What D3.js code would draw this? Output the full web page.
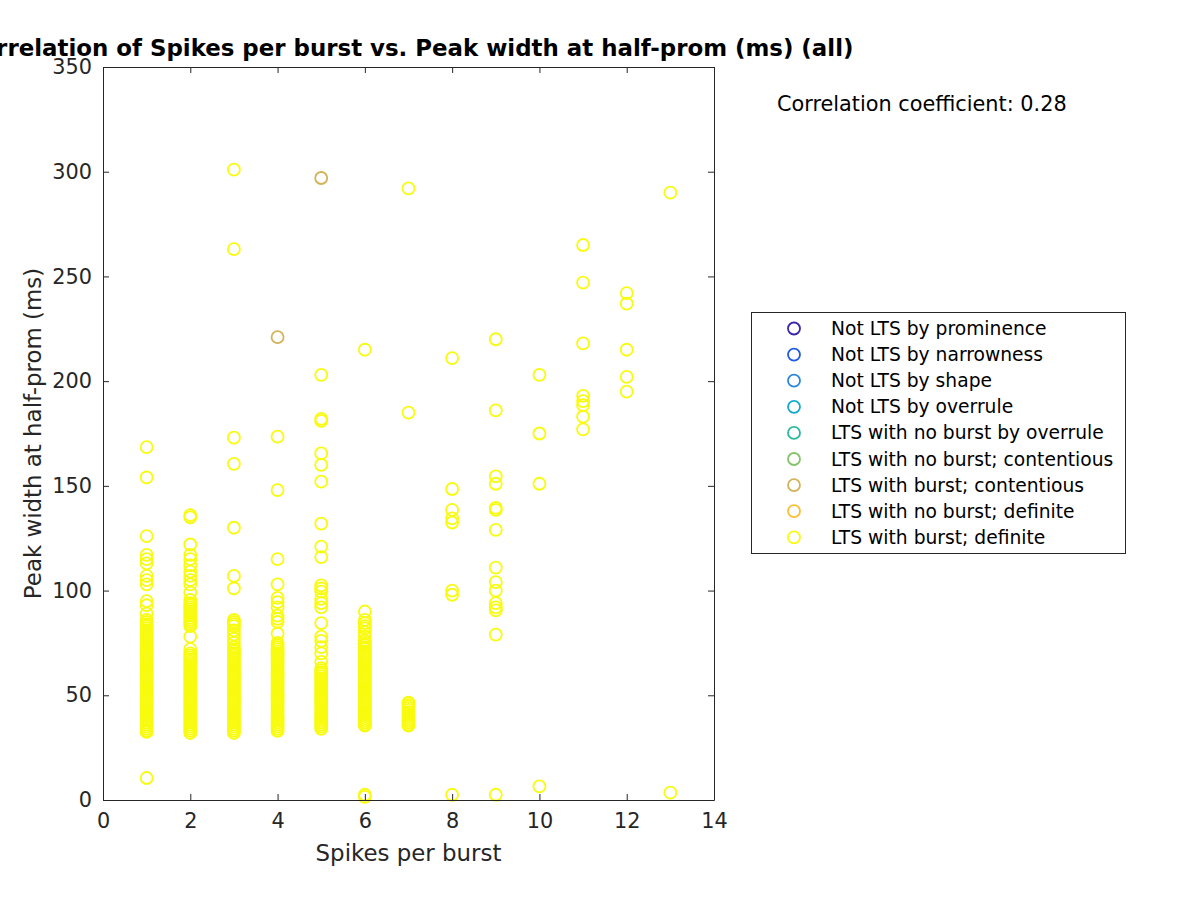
<!DOCTYPE html>
<html>
<head>
<meta charset="utf-8">
<script src="https://cdn.jsdelivr.net/npm/d3@7"></script>
<style>
  html, body { margin: 0; padding: 0; background: #ffffff; }
  svg { display: block; font-family: "DejaVu Sans", sans-serif; }
</style>
</head>
<body>
<svg id="chart" width="1200" height="900"></svg>
<script>
// ---------------- DATA ----------------
const titleText = "Correlation of Spikes per burst vs. Peak width at half-prom (ms) (all)";
const xLabel = "Spikes per burst";
const yLabel = "Peak width at half-prom (ms)";
const corrText = "Correlation coefficient: 0.28";

const categories = [
  "Not LTS by prominence",
  "Not LTS by narrowness",
  "Not LTS by shape",
  "Not LTS by overrule",
  "LTS with no burst by overrule",
  "LTS with no burst; contentious",
  "LTS with burst; contentious",
  "LTS with no burst; definite",
  "LTS with burst; definite"
];
const categoryColors = ["#3e26a8", "#1f5ae6", "#2a87e0", "#10aacb", "#2cb99c", "#87c36c", "#d4b25a", "#fcbf35", "#f9fb0e"];

const xTicks = [0, 2, 4, 6, 8, 10, 12, 14];
const yTicks = [0, 50, 100, 150, 200, 250, 300, 350];

// "LTS with burst; contentious"
const contentiousSpikes = [4, 5];
const contentiousWidths = [221, 297];

// "LTS with burst; definite": spikes per burst and peak widths (ms) per spike count
const definiteSpikes = [1, 2, 3, 4, 5, 6, 7, 8, 9, 10, 11, 12, 13];
const widths1 = [168.5, 154, 126, 117, 115, 113, 107, 105, 103, 95, 93, 89, 86, 85, 84, 83, 82, 81, 80, 79, 78, 77, 76, 75, 74, 73, 72, 71, 70, 69, 68, 67, 66, 65, 64, 63, 62, 61, 60, 59, 58, 57, 56, 55, 54, 53, 52, 51, 50, 49, 48, 47, 46, 45, 44, 43, 42, 41, 40, 39, 38, 37, 36, 35, 34, 33, 32.5, 10.5];
const widths2 = [136, 135, 122, 117, 115, 112, 109, 107, 105, 103, 99, 95.5, 94, 93, 92, 91, 90, 89, 88, 87, 86, 85, 84, 83, 78, 72, 70, 69, 68, 67, 66, 65, 64, 63, 62, 61, 60, 59, 58, 57, 56, 55, 54, 53, 52, 51, 50, 49, 48, 47, 46, 45, 44, 43, 42, 41, 40, 39, 38, 37, 36, 35, 34, 33, 32];
const widths3 = [301, 263, 173, 160.5, 130, 107, 101, 86, 85, 84, 83, 81, 79, 77, 75, 73, 72, 71, 70, 69, 68, 67, 66, 65, 64, 63, 62, 61, 60, 59, 58, 57, 56, 55, 54, 53, 52, 51, 50, 49, 48, 47, 46, 45, 44, 43, 42, 41, 40, 39, 38, 37, 36, 35, 34, 33, 32];
const widths4 = [173.5, 148, 115, 103, 96.5, 94.5, 92, 88, 86.5, 85, 79.5, 75, 74, 73, 72, 71, 70, 69, 68, 67, 66, 65, 64, 63, 62, 61, 60, 59, 58, 57, 56, 55, 54, 53, 52, 51, 50, 49, 48, 47, 46, 45, 44, 43, 42, 41, 40, 39, 38, 37, 36, 35, 34, 33];
const widths5 = [203, 182, 181, 165.5, 160, 152, 132, 121, 116, 102.5, 101, 99.5, 96, 94, 92, 84.5, 78, 76, 73, 70, 66, 63, 62, 61, 60, 59, 58, 57, 56, 55, 54, 53, 52, 51, 50, 49, 48, 47, 46, 45, 44, 43, 42, 41, 40, 39, 38, 37, 36, 35, 34];
const widths6 = [215, 90, 86, 84.5, 83, 82, 80, 78, 76, 75, 74, 73, 72, 71, 70, 69, 68, 67, 66, 65, 64, 63, 62, 61, 60, 59, 58, 57, 56, 55, 54, 53, 52, 51, 50, 49, 48, 47, 46, 45, 44, 43, 42, 41, 40, 39, 38, 37, 36, 35.5, 2.5, 1.5];
const widths7 = [292, 185, 46.5, 46, 45, 44, 43, 42, 41, 40, 39, 38, 37, 36, 35.5];
const widths8 = [211, 148.5, 138.5, 134.5, 132.5, 100, 98, 2.5];
const widths9 = [220, 186, 154.5, 151, 139.5, 138.5, 129, 111, 104, 100, 94, 92, 90.5, 79, 2.5];
const widths10 = [203, 175, 151, 6.5];
const widths11 = [265, 247, 218, 193, 190.5, 188.5, 183, 177];
const widths12 = [242, 237, 215, 202, 195];
const widths13 = [290, 3.5];
const definiteWidths = [widths1, widths2, widths3, widths4, widths5, widths6, widths7, widths8, widths9, widths10, widths11, widths12, widths13];

// ---------------- LAYOUT ----------------
const W = 1200, H = 900;
const plot = { left: 103, right: 714, top: 67, bottom: 800 };
const axisColor = "#262626";
const tickFont = 20.8, labelFont = 22.9, titleFont = 22.9, legendFont = 18.7, corrFont = 20.8;
const markerR = 6, markerStroke = 1.8;

const svg = d3.select("#chart");
svg.append("rect").attr("width", W).attr("height", H).attr("fill", "#ffffff");

const x = d3.scaleLinear().domain([0, 14]).range([plot.left, plot.right]);
const y = d3.scaleLinear().domain([0, 350]).range([plot.bottom, plot.top]);

svg.append("rect")
  .attr("x", plot.left).attr("y", plot.top)
  .attr("width", plot.right - plot.left).attr("height", plot.bottom - plot.top)
  .attr("fill", "#ffffff");

// points
const pts = svg.append("g");
const contentiousPoints = contentiousSpikes.map((s, i) => ({ s, w: contentiousWidths[i] }));
pts.selectAll("circle.cont").data(contentiousPoints).join("circle")
  .attr("class", "cont")
  .attr("cx", d => x(d.s)).attr("cy", d => y(d.w)).attr("r", markerR)
  .attr("fill", "none").attr("stroke", categoryColors[6]).attr("stroke-width", markerStroke);

const definitePoints = [];
definiteSpikes.forEach((s, i) => definiteWidths[i].forEach(w => definitePoints.push({ s, w })));
pts.selectAll("circle.def").data(definitePoints).join("circle")
  .attr("class", "def")
  .attr("cx", d => x(d.s)).attr("cy", d => y(d.w)).attr("r", markerR)
  .attr("fill", "none").attr("stroke", categoryColors[8]).attr("stroke-width", markerStroke);

// axes
const tickLen = 6;
const styleAxis = g => {
  g.selectAll("path.domain").attr("stroke", axisColor).attr("stroke-width", 1);
  g.selectAll(".tick line").attr("stroke", axisColor).attr("stroke-width", 1);
  g.selectAll(".tick text").attr("fill", axisColor).attr("font-size", tickFont).attr("font-family", "DejaVu Sans, sans-serif");
};
svg.append("g").attr("transform", `translate(0,${plot.bottom})`)
  .call(d3.axisBottom(x).tickValues(xTicks).tickFormat(d3.format("d")).tickSizeInner(-tickLen).tickSizeOuter(0).tickPadding(13))
  .call(styleAxis);
svg.append("g").attr("transform", `translate(0,${plot.top})`)
  .call(d3.axisTop(x).tickValues(xTicks).tickFormat("").tickSizeInner(-tickLen).tickSizeOuter(0))
  .call(styleAxis);
svg.append("g").attr("transform", `translate(${plot.left},0)`)
  .call(d3.axisLeft(y).tickValues(yTicks).tickFormat(d3.format("d")).tickSizeInner(-tickLen).tickSizeOuter(0).tickPadding(11))
  .call(styleAxis);
svg.append("g").attr("transform", `translate(${plot.right},0)`)
  .call(d3.axisRight(y).tickValues(yTicks).tickFormat("").tickSizeInner(-tickLen).tickSizeOuter(0))
  .call(styleAxis);

// labels
svg.append("text").attr("x", (plot.left + plot.right) / 2).attr("y", 861)
  .attr("text-anchor", "middle").attr("font-size", labelFont).attr("fill", axisColor).text(xLabel);
svg.append("text").attr("transform", `translate(41,${(plot.top + plot.bottom) / 2}) rotate(-90)`)
  .attr("text-anchor", "middle").attr("font-size", labelFont).attr("fill", axisColor).text(yLabel);
svg.append("text").attr("x", (plot.left + plot.right) / 2).attr("y", 56)
  .attr("text-anchor", "middle").attr("font-size", titleFont).attr("font-weight", "bold").attr("fill", "#000000").text(titleText);
svg.append("text").attr("x", 777).attr("y", 111)
  .attr("font-size", corrFont).attr("fill", "#000000").text(corrText);

// legend
const legend = { x: 751, y: 312, w: 374, h: 241, row: 26.1, first: 16.5 };
const lg = svg.append("g");
lg.append("rect").attr("x", legend.x + 0.5).attr("y", legend.y + 0.5).attr("width", legend.w).attr("height", legend.h)
  .attr("fill", "#ffffff").attr("stroke", axisColor).attr("stroke-width", 1);
const rows = lg.selectAll("g.row").data(categories).join("g").attr("class", "row")
  .attr("transform", (d, i) => `translate(0,${legend.y + legend.first + i * legend.row})`);
rows.append("circle").attr("cx", 794).attr("cy", 0).attr("r", markerR)
  .attr("fill", "none").attr("stroke", (d, i) => categoryColors[i]).attr("stroke-width", markerStroke);
rows.append("text").attr("x", 831).attr("y", 0).attr("dy", "0.35em")
  .attr("font-size", legendFont).attr("fill", "#000000").text(d => d);
</script>
</body>
</html>
